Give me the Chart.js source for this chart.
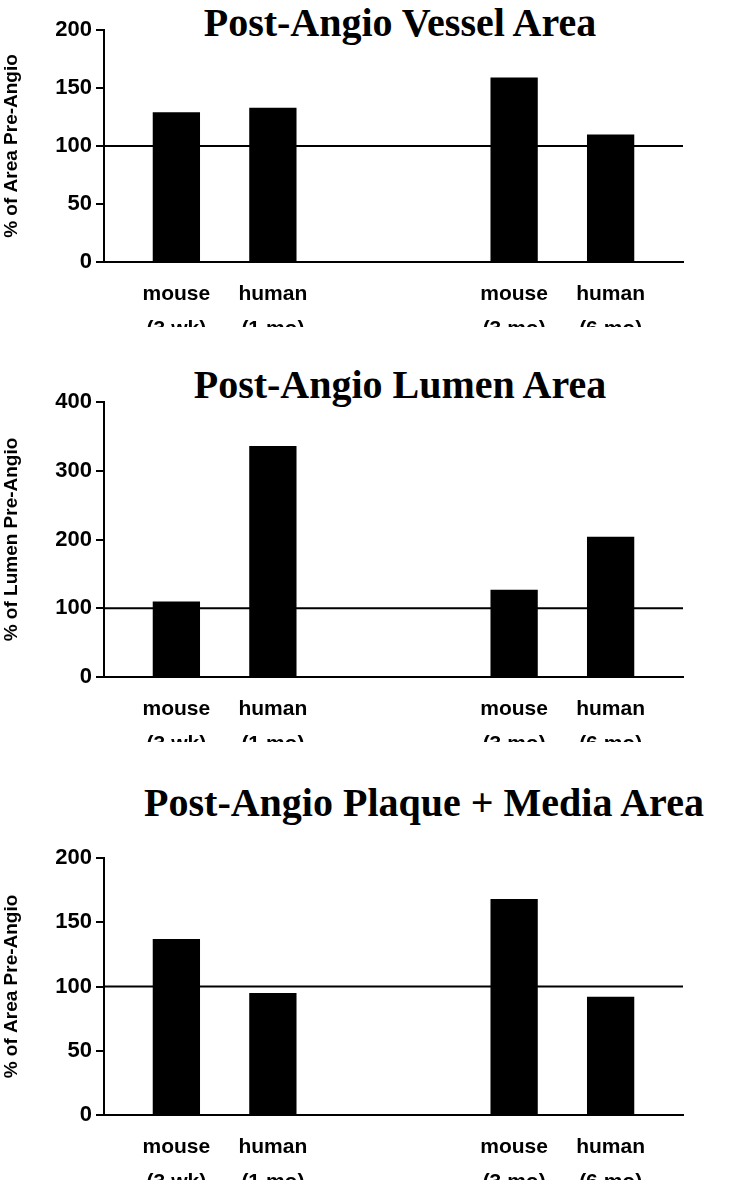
<!DOCTYPE html>
<html>
<head>
<meta charset="utf-8">
<script src="https://cdn.jsdelivr.net/npm/chart.js@4"></script>
<style>
  body { margin: 0; background: #fff; }
  .wrap { position: relative; width: 743px; height: 1199px; }
  .title { position: absolute; font: bold 40px "Liberation Serif", serif; color: #000; white-space: nowrap; transform: translate(-50%, -50%); }
  canvas { position: absolute; left: 0; }
</style>
</head>
<body>
<div class="wrap">
  <div class="title" style="left:400px;top:22px">Post-Angio Vessel Area</div>
  <div class="title" style="left:400px;top:384px">Post-Angio Lumen Area</div>
  <div class="title" style="left:424px;top:802px">Post-Angio Plaque + Media Area</div>
  <div style="position:absolute;left:0;top:0;width:743px;height:327px"><canvas id="c1"></canvas></div>
  <div style="position:absolute;left:0;top:360px;width:743px;height:382px"><canvas id="c2"></canvas></div>
  <div style="position:absolute;left:0;top:820px;width:743px;height:360px"><canvas id="c3"></canvas></div>
</div>
<script>
// slots: empty slots keep the gap between the two groups
const categories = ['', ['mouse', '(3 wk)'], '', ['human', '(1 mo)'], '', '', '', '', ['mouse', '(3 mo)'], '', ['human', '(6 mo)'], '']
const vesselArea = [null, 129, null, 133, null, null, null, null, 159, null, 110, null]
const lumenArea = [null, 110, null, 336, null, null, null, null, 127, null, 204, null]
const plaqueMediaArea = [null, 137, null, 95, null, null, null, null, 168, null, 92, null]
const referenceValue = 100

const refLine = {
  id: 'refLine',
  afterDatasetsDraw(chart) {
    const { ctx, chartArea, scales } = chart
    const y = scales.y.getPixelForValue(referenceValue)
    ctx.save()
    ctx.strokeStyle = '#000'
    ctx.lineWidth = 2
    ctx.beginPath()
    ctx.moveTo(chartArea.left, y)
    ctx.lineTo(chartArea.right, y)
    ctx.stroke()
    ctx.restore()
  }
}

function makeChart(id, values, yTitle, yMax, step, topPad) {
  new Chart(document.getElementById(id), {
    type: 'bar',
    data: {
      labels: categories,
      datasets: [{ data: values, backgroundColor: '#000', barPercentage: 1, categoryPercentage: 0.98 }]
    },
    options: {
      responsive: true,
      maintainAspectRatio: false,
      animation: false,
      layout: { padding: { top: topPad, right: 60, left: 0, bottom: 0 } },
      plugins: { legend: { display: false }, tooltip: { enabled: false } },
      scales: {
        x: {
          grid: { display: false },
          border: { color: '#000', width: 2 },
          ticks: { color: '#000', font: { family: 'Liberation Sans', size: 21, weight: 'bold', lineHeight: 1.7 }, maxRotation: 0, autoSkip: false, padding: 6 },
          afterFit: s => { s.height = 65 }
        },
        y: {
          min: 0,
          max: yMax,
          ticks: { stepSize: step, color: '#000', font: { family: 'Liberation Sans', size: 22, weight: 'bold' }, padding: 4 },
          grid: { drawOnChartArea: false, color: '#000', tickLength: 8, lineWidth: 2 },
          border: { color: '#000', width: 2 },
          title: { display: true, text: yTitle, color: '#000', font: { family: 'Liberation Sans', size: 19, weight: 'bold' }, padding: 0 },
          afterFit: s => { s.width = 104 }
        }
      }
    },
    plugins: [refLine]
  })
}

makeChart('c1', vesselArea, '% of Area Pre-Angio', 200, 50, 30)
makeChart('c2', lumenArea, '% of Lumen Pre-Angio', 400, 100, 42)
makeChart('c3', plaqueMediaArea, '% of Area Pre-Angio', 200, 50, 38)
</script>
</body>
</html>
